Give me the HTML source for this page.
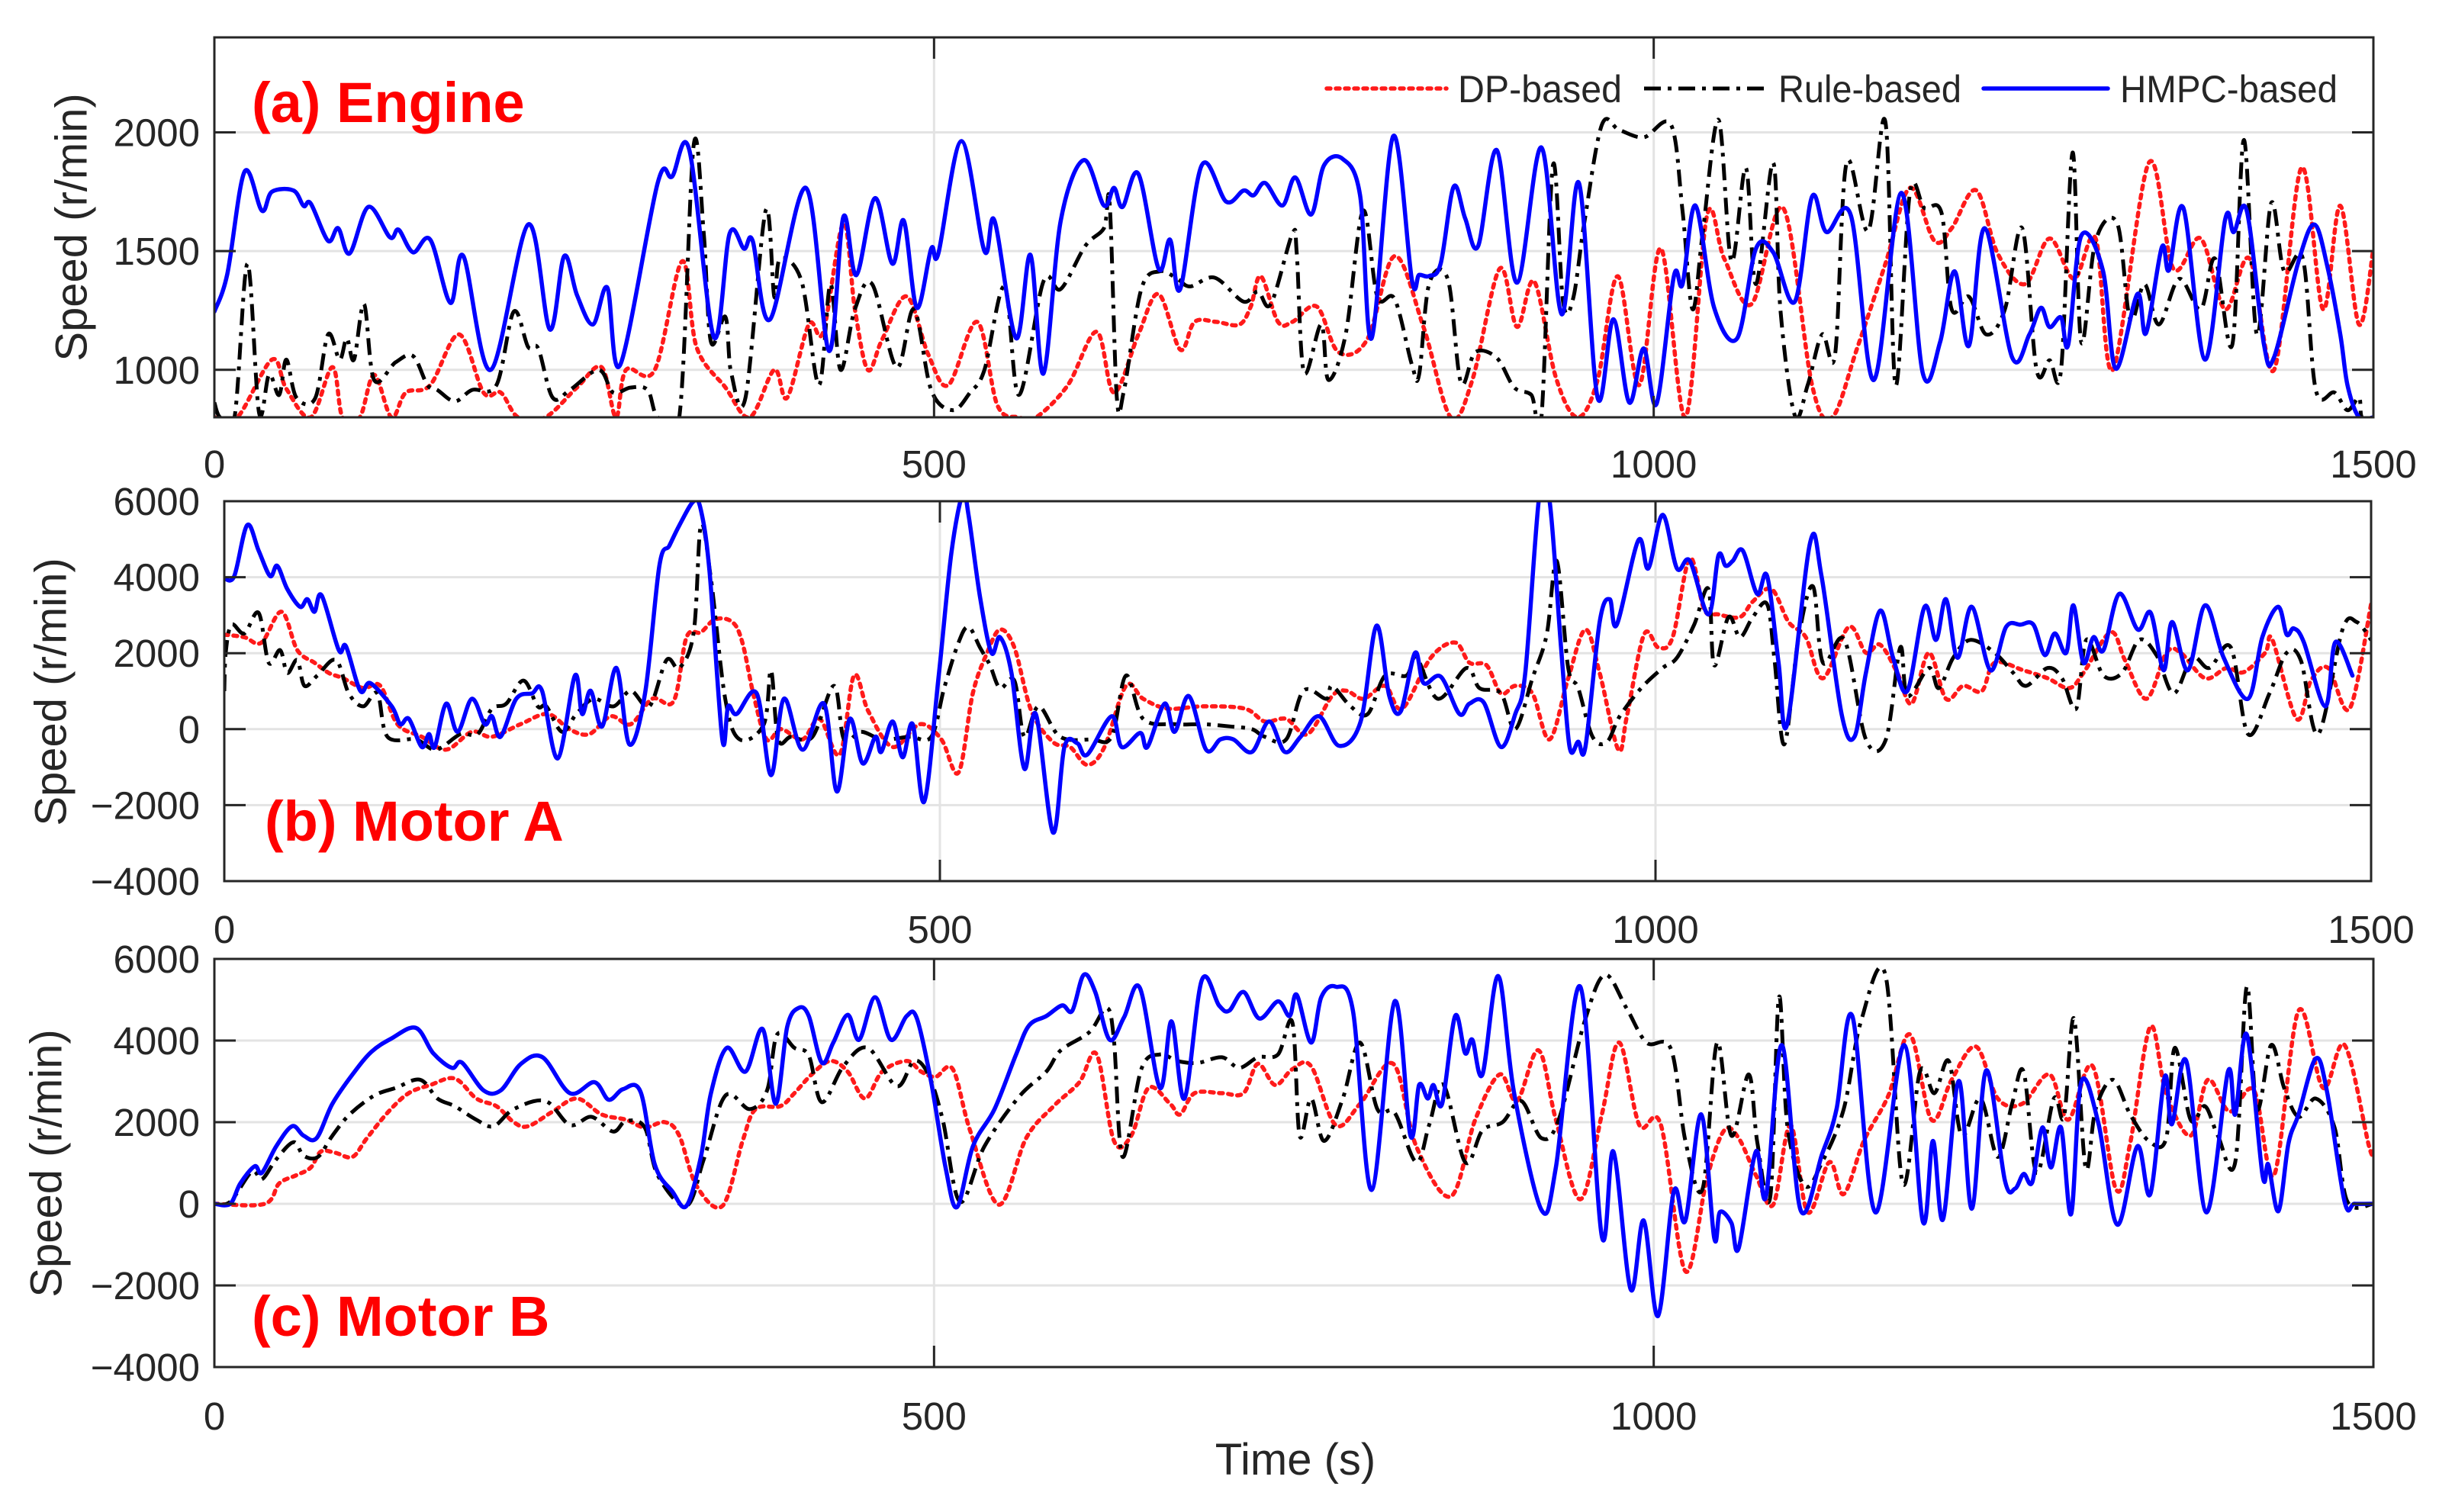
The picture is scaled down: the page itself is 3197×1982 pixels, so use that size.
<!DOCTYPE html>
<html><head><meta charset="utf-8"><title>Engine and motor speed comparison</title>
<style>
html,body{margin:0;padding:0;background:#fff;}
svg{display:block;font-family:"Liberation Sans",Arial,sans-serif;}
</style></head>
<body>
<svg id="chart" xmlns="http://www.w3.org/2000/svg" width="3197" height="1982" viewBox="0 0 3197 1982">
<rect x="0" y="0" width="3197" height="1982" fill="#fff"/>
</svg>
<script>
// ---------------- data ----------------
const xTicks = [0, 500, 1000, 1500];
const engineTicks = [1000, 1500, 2000];
const motorTicks = [-4000, -2000, 0, 2000, 4000, 6000];
const seriesNames = ["DP-based", "Rule-based", "HMPC-based"];

const engHmpcT = [0,9,21,33,40,55,62,67,79,86,
94,107,122,128,138,150,164,173,192,218,
233,243,252,263,273,282,308,318,330,347,
358,368,374,386,411,427,437,446,459,471,
479,488,498,503,519,535,542,557,567,576,
588,604,618,625,631,642,656,664,671,686,
703,715,722,730,742,751,762,771,784,796,
804,819,832,837,844,852,861,869,878,891,
905,922,936,948,961,972,983,993,1002,1014,
1020,1029,1042,1058,1071,1083,1098,1110,1120,1137,
1153,1172,1187,1199,1209,1219,1230,1249,1261,1269,
1275,1283,1288,1297,1312,1321,1336,1342,1353,1358,
1368,1383,1397,1403,1412,1424,1431,1448,1459,1468,
1477,1482,1490,1500];
const engHmpcV = [1245,1404,1835,1670,1750,1755,1690,1700,1543,1596,
1490,1686,1558,1590,1495,1548,1282,1479,1000,1612,
1170,1479,1314,1191,1346,1021,1787,1814,1925,1138,
1574,1510,1543,1212,1766,1080,1644,1399,1723,1447,
1628,1261,1510,1490,1963,1500,1628,1133,1484,984,
1628,1883,1692,1766,1686,1825,1426,1548,1340,1862,
1708,1755,1735,1787,1692,1810,1654,1862,1888,1734,
1133,1984,1378,1400,1395,1447,1771,1638,1521,1925,
1367,1936,1234,1787,883,1213,862,1090,857,1394,
1360,1692,1261,1133,1510,1495,1287,1729,1580,1650,
957,1745,984,1117,1415,1101,1596,1053,1149,1261,
1180,1220,1106,1564,1420,1005,1319,1154,1516,1420,
1681,1043,1633,1580,1670,1106,1053,1457,1612,1436,
1149,936,800,800];

const engRuleT = [0,4,14,23,31,38,45,50,57,70,
79,87,92,97,104,111,126,138,148,155,
167,179,196,208,218,225,235,247,267,277,
289,301,308,323,333,340,345,355,359,369,
383,389,393,408,420,428,435,445,457,474,
486,498,513,525,535,549,559,576,588,605,
618,622,627,632,644,657,669,678,695,715,
725,734,749,752,757,769,774,786,798,808,
820,832,837,844,857,866,876,891,903,915,
922,930,937,944,952,964,976,993,1012,1020,
1027,1034,1045,1054,1064,1071,1083,1088,1098,1107,
1117,1126,1134,1149,1161,1168,1178,1188,1200,1207,
1219,1231,1244,1256,1266,1275,1283,1291,1297,1307,
1322,1331,1341,1351,1365,1380,1390,1402,1410,1419,
1429,1438,1451,1460,1473,1482,1490,1492,1500];
const engRuleV = [862,800,800,1447,820,980,894,1043,883,880,
1149,1043,1133,1043,1277,957,1032,1058,936,915,
867,915,936,1245,1096,1090,883,915,1000,904,
925,915,800,800,1947,1574,1117,1223,989,883,
1670,1308,1468,1372,936,1361,1000,1255,1361,1010,
1255,915,830,904,1000,1351,894,1372,1340,1521,
1596,1702,883,915,1340,1415,1383,1351,1388,1287,
1330,1277,1574,1489,989,1191,957,1150,1670,1308,
1298,1021,979,1362,1380,947,1074,1050,926,894,
800,1862,1287,1300,1628,2032,2010,1979,2032,1670,
1255,1574,2053,1457,1851,1361,1872,1255,808,936,
1149,1064,1872,1585,2043,936,1745,1681,1660,1255,
1308,1149,1255,1596,1000,1040,1000,1915,1117,1543,
1617,1213,1361,1191,1383,1255,1468,1106,1968,1149,
1702,1415,1468,915,904,830,883,800,800];

const engDpT = [0,16,40,50,67,82,89,101,111,123,
133,150,170,187,199,211,230,252,269,279,
286,306,325,335,355,372,389,398,413,423,
437,445,454,464,481,496,510,530,544,559,
571,593,613,625,642,656,671,681,696,712,
720,727,739,749,766,781,801,820,840,859,
874,893,905,917,932,947,961,975,990,1005,
1022,1037,1049,1068,1090,1110,1124,1141,1161,1178,
1195,1207,1224,1239,1258,1275,1292,1307,1319,1344,
1361,1380,1397,1414,1431,1450,1465,1477,1490,1500];
const engDpV = [800,800,1043,920,800,1011,800,800,979,800,
904,936,1149,904,904,800,800,926,1011,800,
1000,1000,1457,1096,926,800,1000,883,1191,1160,
1617,1255,1000,1128,1309,1064,936,1202,851,800,
800,936,1160,904,1149,1319,1085,1202,1202,1190,
1266,1394,1202,1202,1266,1074,1128,1479,1181,800,
957,1426,1181,1372,968,800,957,1394,936,1511,
800,1649,1468,1277,1681,936,800,1085,1447,1766,
1543,1596,1756,1489,1361,1553,1383,1553,1000,1872,
1426,1553,1255,1468,1000,1851,1255,1691,1191,1510];

const motAHmpcT = [0,7,16,24,32,37,44,53,58,63,
68,80,85,95,102,117,123,129,138,143,
147,155,163,173,182,187,193,204,215,222,
233,245,250,256,264,274,283,294,304,311,
318,328,333,339,348,352,358,372,382,391,
404,419,428,437,446,455,459,467,474,481,
489,499,508,516,520,528,536,542,550,559,
567,579,587,596,603,620,627,640,645,657,
664,674,686,696,705,718,730,741,752,765,
779,794,805,814,822,832,838,850,863,870,
880,892,902,909,919,926,934,940,946,951,
961,968,973,988,995,1005,1015,1024,1037,1044,
1049,1054,1061,1071,1078,1086,1092,1108,1116,1130,
1139,1147,1157,1166,1176,1188,1196,1203,1211,1221,
1234,1245,1255,1264,1272,1279,1287,1292,1299,1306,
1313,1324,1337,1346,1355,1361,1372,1384,1397,1414,
1424,1435,1441,1446,1453,1468,1475,1487];
const motAHmpcV = [3970,4030,5370,4700,4030,4300,3690,3220,3420,3090,
3520,2080,2180,1010,1210,600,130,270,-470,-130,
-470,670,-70,800,130,340,-200,800,940,1010,
-770,1410,400,1010,70,1610,-400,940,4300,4830,
5370,6000,5770,4160,-270,600,400,940,-1210,800,
-540,670,-1640,270,-900,-200,-600,200,-740,130,
-1910,1340,4630,6200,5640,3490,2010,2420,1480,-1040,
400,-2720,-470,-370,-670,340,-470,-100,-470,670,
-70,870,-540,-270,-270,-600,200,-600,-200,340,
-440,200,2720,870,470,2010,1210,1380,400,670,
700,-470,400,1480,6200,6000,2150,-470,-330,-470,
2820,3420,2750,4970,4230,5640,4230,4430,3020,4570,
4300,4430,4700,3560,4030,1750,130,4900,4030,400,
-200,1480,3120,1880,1010,3220,2350,3420,1880,3220,
1550,2690,2750,2750,1950,2520,2010,3260,1750,2420,
2080,3560,2620,3060,1550,2820,1550,3260,1880,800,
2420,3220,2490,2650,2290,600,2290,1410];

const motARuleT = [0,1,5,14,24,31,39,44,51,56,
65,78,87,97,107,114,134,148,165,177,
187,197,209,219,225,236,246,258,272,284,
297,309,318,328,333,340,350,360,377,382,
387,396,411,426,433,445,460,479,494,503,
513,520,528,535,542,552,559,569,584,606,
620,630,642,664,684,703,718,727,742,754,
770,774,787,799,811,826,833,848,868,877,
892,902,914,924,931,939,946,956,966,975,
990,1005,1015,1027,1037,1041,1051,1059,1068,1078,
1083,1090,1100,1110,1117,1132,1147,1161,1171,1176,
1191,1198,1208,1220,1237,1250,1259,1274,1284,1294,
1301,1313,1326,1338,1350,1362,1375,1387,1402,1414,
1429,1441,1451,1463,1480,1490,1500];
const motARuleV = [1000,2010,2750,2520,3060,1750,2080,1480,1820,1140,
1410,1820,940,600,940,-200,-270,-540,-130,-130,
540,670,1280,600,600,-70,400,800,600,1010,
600,1820,1610,2550,5370,3970,800,-270,130,1550,
-270,-200,-200,1140,-270,-70,-270,-200,-200,1080,
2280,2690,2150,1680,1080,1280,-200,600,-200,-270,
-200,1410,270,130,130,70,0,-200,-270,1010,
800,1140,600,400,1410,1410,1880,800,1610,1080,
940,0,1340,2490,4430,1610,1080,-200,-340,340,
1080,1610,1880,2750,3690,1680,2950,2420,2950,3290,
1880,-400,2420,3760,1750,2350,-270,-270,2150,870,
1610,1080,1880,2350,2010,1480,1140,1610,1340,540,
2350,1410,1480,2350,1950,940,1880,1610,2150,-130,
940,2010,1800,-130,2620,2820,2350];

const motADpT = [0,14,26,40,51,63,73,83,97,109,
121,138,155,173,187,207,226,241,255,270,
284,299,314,323,333,343,355,362,370,379,
389,404,416,430,440,450,467,486,501,513,
523,533,542,552,564,579,591,603,615,630,
642,659,684,713,727,742,757,774,784,796,
811,823,843,860,870,882,892,902,914,926,
939,951,961,974,980,992,1002,1012,1024,1034,
1044,1059,1068,1081,1093,1105,1117,1135,1147,1157,
1169,1179,1191,1203,1215,1228,1237,1257,1274,1289,
1299,1318,1328,1343,1357,1367,1384,1399,1411,1426,
1431,1448,1458,1470,1485,1500];
const motADpV = [2490,2420,2280,3090,2080,1750,1480,1340,1080,1140,
130,-200,-540,-70,-200,130,400,0,-130,340,
130,800,740,2420,2550,2890,2820,2280,870,-270,
0,-270,270,-670,1410,470,-470,130,-270,-1140,
940,2010,2620,2150,470,-340,-470,-940,-470,1140,
800,540,600,540,200,270,-130,870,1010,800,
1140,540,1880,2280,1750,1680,940,1140,940,-270,
1340,2620,1480,-540,340,2490,2150,2420,4500,3150,
3020,2950,3360,3690,2820,2420,1340,2690,2010,2220,
1480,670,2010,800,1140,1000,1750,1550,1340,1080,
1480,2550,1820,800,2010,2010,1340,1610,1500,2010,
2350,270,1280,1610,540,3290];

const motBHmpcT = [0,11,18,28,33,43,54,62,71,82,
96,109,123,140,152,165,172,187,199,213,
228,247,264,274,284,296,306,318,328,338,
345,356,369,381,390,398,406,413,422,430,
440,448,459,470,481,488,498,508,516,527,
542,557,566,578,589,596,604,612,622,632,
643,657,665,674,686,698,705,715,726,739,
747,752,762,769,779,791,804,820,831,837,
843,847,853,862,869,874,881,892,903,922,
932,949,964,972,984,993,1003,1014,1022,1033,
1042,1046,1054,1059,1071,1078,1089,1102,1117,1127,
1138,1154,1174,1187,1194,1201,1212,1221,1231,1244,
1251,1257,1263,1270,1276,1283,1290,1297,1309,1322,
1336,1345,1355,1360,1370,1384,1399,1404,1412,1423,
1427,1434,1441,1448,1460,1468,1480,1487,1500];
const motBHmpcV = [0,0,500,920,760,1410,1900,1670,1610,2450,
3170,3720,4050,4310,3690,3330,3460,2780,2780,3430,
3590,2710,2980,2550,2810,2750,960,310,-50,1150,
2710,3820,3240,4280,2450,4340,4800,4600,3460,3950,
4630,4020,5060,4020,4600,4550,2980,890,-80,1410,
2320,3660,4370,4600,4860,4730,5610,5190,4020,4570,
5290,2840,4470,2580,5480,4860,4730,5190,4540,4960,
4600,5120,3950,5060,5320,4730,340,4960,1670,2910,
2580,2910,2450,4600,3690,4020,3170,5580,2710,-150,
890,5320,-800,1280,-2100,-410,-2750,310,-410,2190,
-830,-200,-470,-1090,1280,180,3890,-150,1220,2320,
4600,-210,3890,-440,1540,-380,3010,-120,3270,570,
370,730,530,1870,890,1870,-250,2980,1970,-510,
1410,240,3110,1950,3500,-210,3240,2190,4150,700,
960,-180,1480,2190,3560,2710,50,0,0];

const motBRuleT = [0,11,26,33,43,55,62,72,82,94,
111,126,143,155,167,182,194,208,230,247,
262,277,286,299,308,328,340,355,372,384,
391,403,413,422,437,454,474,486,496,506,
518,535,559,578,588,608,620,625,631,644,
657,669,683,700,712,725,739,749,754,762,
771,784,796,808,820,835,844,854,869,881,
895,908,922,934,952,966,981,995,1012,1022,
1034,1044,1054,1066,1072,1081,1087,1093,1105,1117,
1132,1144,1161,1173,1185,1195,1205,1214,1227,1239,
1249,1257,1266,1278,1285,1292,1300,1307,1319,1331,
1344,1356,1362,1373,1383,1392,1404,1412,1419,1429,
1438,1448,1460,1473,1482,1500];
const motBRuleV = [0,50,790,600,1090,1510,1180,1150,1670,2190,
2650,2840,3040,2580,2390,2060,1900,2320,2520,1930,
2130,1770,2030,1870,700,-50,1090,2650,2320,2780,
4150,3820,3630,2490,3370,3820,2880,3500,3170,2060,
50,1410,2620,3240,3760,4210,4800,4000,1150,3300,
3660,3500,3450,3590,3330,3590,3660,4440,1670,2580,
1540,2580,3950,2320,2230,1020,1930,2910,1020,1800,
2000,2520,1610,2060,4470,5610,4800,3950,3790,1540,
370,3950,1670,3170,1500,180,5060,1870,440,1020,
2320,4470,5610,500,3240,2710,3500,1670,2580,1150,
2450,3240,760,2580,2130,4540,890,2320,3040,2190,
1540,1600,3820,2060,2390,1670,1020,5320,2320,3890,
2840,2130,2580,1870,50,0];

const motBDpT = [0,35,45,57,67,74,84,96,106,121,
135,150,167,182,196,208,218,235,252,269,
286,299,313,323,335,353,367,376,393,403,
415,428,440,452,464,481,491,501,513,525,
545,564,583,601,613,625,637,649,664,671,
681,700,715,725,737,749,762,779,796,819,
835,859,876,893,905,920,932,949,964,976,
990,1005,1022,1037,1049,1059,1071,1083,1095,1107,
1122,1132,1146,1163,1178,1193,1207,1224,1239,1256,
1275,1288,1305,1321,1331,1345,1356,1373,1385,1400,
1417,1431,1448,1465,1480,1497,1500];
const motBDpV = [0,0,500,700,890,1280,1250,1150,1610,2260,
2710,2910,3070,2580,2390,2000,1900,2260,2580,2190,
2060,1870,2000,1670,440,-50,1540,2320,2390,2710,
3170,3500,3240,2580,3240,3500,3240,3110,3300,1800,
-20,1610,2390,2980,3660,1540,1670,2840,2450,2190,
2710,2710,2710,3430,2910,3300,3370,1930,2450,3430,
1410,180,2060,3170,2520,3760,2060,110,2190,3950,
1930,1930,-1650,630,1800,1610,700,-20,1930,-210,
1020,240,1540,2650,4150,2060,3040,3850,2580,2450,
3170,2060,3370,370,1480,4340,2710,1670,3040,2260,
2780,700,4730,2840,3890,1410,1300];

// ---------------- drawing ----------------
const NS = "http://www.w3.org/2000/svg";
const svg = document.getElementById("chart");
function mk(tag, attrs, parent) {
  const e = document.createElementNS(NS, tag);
  for (const k in attrs) e.setAttribute(k, attrs[k]);
  (parent || svg).appendChild(e);
  return e;
}
const panels = [
  {id: "engine", x0: 281, x1: 3111, y0: 49, y1: 547, ymin: 800, ymax: 2400, ticks: engineTicks,
   title: "(a) Engine", tx: 330, ty: 160, lx: 94, ly: 298, xlabY: 626,
   series: [[engDpT, engDpV], [engRuleT, engRuleV], [engHmpcT, engHmpcV]]},
  {id: "motor-a", x0: 294, x1: 3108, y0: 657, y1: 1155, ymin: -4000, ymax: 6000, ticks: motorTicks,
   title: "(b) Motor A", tx: 347, ty: 1102, lx: 67, ly: 907, xlabY: 1236,
   series: [[motADpT, motADpV], [motARuleT, motARuleV], [motAHmpcT, motAHmpcV]]},
  {id: "motor-b", x0: 281, x1: 3111, y0: 1257, y1: 1792, ymin: -4000, ymax: 6000, ticks: motorTicks,
   title: "(c) Motor B", tx: 330, ty: 1751, lx: 61, ly: 1525, xlabY: 1874,
   series: [[motBDpT, motBDpV], [motBRuleT, motBRuleV], [motBHmpcT, motBHmpcV]]}
];
const styles = [
  {stroke: "#ff1a1a", dash: "5,7", cap: "round", w: 5.5, name: "dp-based-line"},
  {stroke: "#000000", dash: "22,9,5,9", cap: "butt", w: 5, name: "rule-based-line"},
  {stroke: "#0000ff", dash: "none", cap: "round", w: 5.5, name: "hmpc-based-line"}
];
const AX = "#262626";

function pathFrom(pts) {
  let d = "M" + pts[0][0].toFixed(1) + "," + pts[0][1].toFixed(1);
  for (let i = 0; i < pts.length - 1; i++) {
    const p0 = pts[i - 1] || pts[i], p1 = pts[i], p2 = pts[i + 1], p3 = pts[i + 2] || p2;
    const c1x = p1[0] + (p2[0] - p0[0]) / 6, c1y = p1[1] + (p2[1] - p0[1]) / 6;
    const c2x = p2[0] - (p3[0] - p1[0]) / 6, c2y = p2[1] - (p3[1] - p1[1]) / 6;
    d += "C" + c1x.toFixed(1) + "," + c1y.toFixed(1) + " " + c2x.toFixed(1) + "," + c2y.toFixed(1) + " " + p2[0].toFixed(1) + "," + p2[1].toFixed(1);
  }
  return d;
}

const defs = mk("defs", {});
panels.forEach(function (p, pi) {
  const xs = function (t) { return p.x0 + (t - 0) / 1500 * (p.x1 - p.x0); };
  const ys = function (v) { return p.y1 - (v - p.ymin) / (p.ymax - p.ymin) * (p.y1 - p.y0); };
  const g = mk("g", {});
  
  
  const cp = mk("clipPath", {id: "clip" + pi}, defs);
  mk("rect", {x: p.x0, y: p.y0, width: p.x1 - p.x0, height: p.y1 - p.y0}, cp);

  p.ticks.forEach(function (v) {
    const gl = mk("line", {x1: p.x0, x2: p.x1, y1: ys(v), y2: ys(v), stroke: "#e3e3e3", "stroke-width": 3}, g);
    
    
  });
  xTicks.forEach(function (t) {
    const gl = mk("line", {x1: xs(t), x2: xs(t), y1: p.y0, y2: p.y1, stroke: "#e3e3e3", "stroke-width": 3}, g);
    
    
  });

  const sg = mk("g", {"clip-path": "url(#clip" + pi + ")"}, g);
  p.series.forEach(function (s, si) {
    const T = s[0], V = s[1];
    const n = Math.min(T.length, V.length);
    const pts = [];
    for (let i = 0; i < n; i++) pts.push([xs(T[i]), ys(V[i])]);
    const st = styles[si];
    const path = mk("path", {d: pathFrom(pts), fill: "none", stroke: st.stroke, "stroke-width": st.w,
      "stroke-dasharray": st.dash, "stroke-linecap": st.cap, "stroke-linejoin": "round"}, sg);
    
    
  });

  const box = mk("rect", {x: p.x0, y: p.y0, width: p.x1 - p.x0, height: p.y1 - p.y0, fill: "none", stroke: AX, "stroke-width": 3}, g);
  
  

  p.ticks.forEach(function (v) {
    const y = ys(v);
    mk("line", {x1: p.x0, x2: p.x0 + 28, y1: y, y2: y, stroke: AX, "stroke-width": 3}, g);
    mk("line", {x1: p.x1, x2: p.x1 - 28, y1: y, y2: y, stroke: AX, "stroke-width": 3}, g);
    const lab = mk("text", {x: 262, y: y + 18, "text-anchor": "end", "font-size": 51, fill: AX}, g);
    lab.textContent = (v < 0 ? "\u2212" + Math.abs(v) : String(v));
    
    
  });
  xTicks.forEach(function (t) {
    const x = xs(t);
    mk("line", {x1: x, x2: x, y1: p.y1, y2: p.y1 - 28, stroke: AX, "stroke-width": 3}, g);
    mk("line", {x1: x, x2: x, y1: p.y0, y2: p.y0 + 28, stroke: AX, "stroke-width": 3}, g);
    const lab = mk("text", {x: x, y: p.xlabY, "text-anchor": "middle", "font-size": 51, fill: AX}, g);
    lab.textContent = String(t);
    
    
  });
  const yt = mk("text", {x: 0, y: 0, transform: "translate(" + p.lx + "," + p.ly + ") rotate(-90)",
    "text-anchor": "middle", "dominant-baseline": "central", "font-size": 58, fill: AX}, g);
  yt.textContent = "Speed (r/min)";
  
  
  const tt = mk("text", {x: p.tx, y: p.ty, "font-size": 74, "font-weight": "bold", fill: "#ff0000"}, g);
  tt.textContent = p.title;
  
  
});

const xt = mk("text", {x: 1698, y: 1933, "text-anchor": "middle", "font-size": 58, fill: AX});
xt.textContent = "Time (s)";



const lg = mk("g", {});


const legLines = [[1739, 1896, 1911, 215], [2155, 2314, 2331, 240], [2600, 2763, 2779, 285]];
seriesNames.forEach(function (nm, i) {
  const st = styles[i], L = legLines[i];
  const ent = mk("g", {}, lg);
  
  
  mk("line", {x1: L[0], x2: L[1], y1: 116, y2: 116, stroke: st.stroke, "stroke-width": st.w,
    "stroke-dasharray": st.dash, "stroke-linecap": st.cap}, ent);
  const tx = mk("text", {x: L[2], y: 134, "font-size": 50, fill: AX, textLength: L[3], lengthAdjust: "spacingAndGlyphs"}, ent);
  tx.textContent = nm;
  
  
});
</script>
</body></html>
